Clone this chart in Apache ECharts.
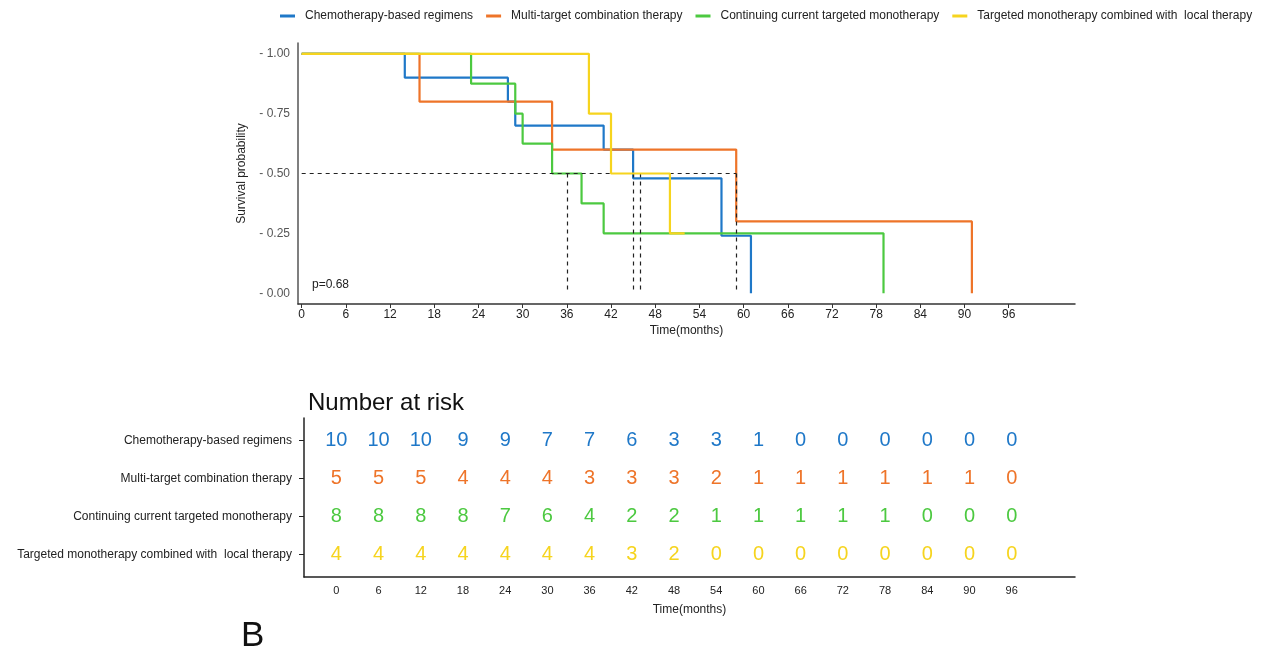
<!DOCTYPE html>
<html>
<head>
<meta charset="utf-8">
<script src="https://cdn.jsdelivr.net/npm/echarts@6/dist/echarts.min.js"></script>
<style>
html,body{margin:0;padding:0;background:#fff;}
#c{width:1267px;height:653px;}
</style>
</head>
<body>
<div id="c"></div>
<script>
// ---- data ----
var groups = ['Chemotherapy-based regimens', 'Multi-target combination therapy', 'Continuing current targeted monotherapy', 'Targeted monotherapy combined with  local therapy'];
var colors = ['#1F78C8', '#EE7429', '#4CC940', '#F6D41E'];

var chemoTimes = [0, 14, 28, 29, 41, 45, 57, 61];
var chemoSurv  = [1, 0.9, 0.8, 0.7, 0.6, 0.48, 0.24, 0];
var multiTimes = [0, 16, 34, 59, 91];
var multiSurv  = [1, 0.8, 0.6, 0.3, 0];
var contTimes  = [0, 23, 29, 30, 34, 38, 41, 79];
var contSurv   = [1, 0.875, 0.75, 0.625, 0.5, 0.375, 0.25, 0];
var localTimes = [0, 39, 42, 50, 52];
var localSurv  = [1, 0.75, 0.5, 0.25, 0.25];

var medianLevel = 0.5;
var medianTimes = [36, 45, 46, 59];

var xTicks = [0, 6, 12, 18, 24, 30, 36, 42, 48, 54, 60, 66, 72, 78, 84, 90, 96];
var yTicks = [0, 0.25, 0.5, 0.75, 1];

var riskChemo = [10, 10, 10, 9, 9, 7, 7, 6, 3, 3, 1, 0, 0, 0, 0, 0, 0];
var riskMulti = [5, 5, 5, 4, 4, 4, 3, 3, 3, 2, 1, 1, 1, 1, 1, 1, 0];
var riskCont  = [8, 8, 8, 8, 7, 6, 4, 2, 2, 1, 1, 1, 1, 1, 0, 0, 0];
var riskLocal = [4, 4, 4, 4, 4, 4, 4, 3, 2, 0, 0, 0, 0, 0, 0, 0, 0];

var pText = 'p=0.68';

// ---- build ----
var curveTimes = [chemoTimes, multiTimes, contTimes, localTimes];
var curveSurv = [chemoSurv, multiSurv, contSurv, localSurv];
var risks = [riskChemo, riskMulti, riskCont, riskLocal];
var FONT = '"Liberation Sans", Arial, sans-serif';

function pairs(t, s) { return t.map(function (v, i) { return [v, s[i]]; }); }

var series = [];
groups.forEach(function (g, i) {
  series.push({
    name: g, type: 'line', step: 'end', xAxisIndex: 0, yAxisIndex: 0,
    data: pairs(curveTimes[i], curveSurv[i]),
    showSymbol: false, symbol: 'none',
    lineStyle: { color: colors[i], width: 2.2 },
    itemStyle: { color: colors[i] },
    z: 2 + i, animation: false
  });
});
var maxMedian = Math.max.apply(null, medianTimes);
var ml = [[{ coord: [0, medianLevel] }, { coord: [maxMedian, medianLevel] }]];
medianTimes.forEach(function (t) {
  ml.push([{ coord: [t, medianLevel] }, { coord: [t, 0] }]);
});
series.push({
  type: 'line', xAxisIndex: 0, yAxisIndex: 0, data: [], silent: true, z: 10,
  markLine: {
    silent: true, symbol: ['none', 'none'], animation: false,
    label: { show: false },
    lineStyle: { color: '#222', type: [4, 4], width: 1.2 },
    data: ml
  }
});
// risk table
groups.forEach(function (g, i) {
  series.push({
    type: 'scatter', xAxisIndex: 1, yAxisIndex: 1, symbolSize: 1,
    itemStyle: { color: 'rgba(0,0,0,0)' }, silent: true, animation: false,
    data: xTicks.map(function (t, k) { return [t, groups.length - i, risks[i][k]]; }),
    label: {
      show: true, position: 'inside', fontFamily: FONT, fontSize: 20,
      color: colors[i], textBorderWidth: 0, opacity: 1,
      formatter: function (p) { return String(p.value[2]); }
    }
  });
});

var chart = echarts.init(document.getElementById('c'), null, { renderer: 'canvas' });
chart.setOption({
  animation: false,
  backgroundColor: '#fff',
  textStyle: { fontFamily: FONT },
  legend: {
    data: groups, left: 275, top: 5, width: 1000, itemWidth: 15, itemHeight: 3, itemGap: 13,
    icon: 'rect',
    textStyle: { fontFamily: FONT, fontSize: 12, color: '#222', padding: [0, 0, 0, 5] }
  },
  title: [
    { text: 'Number at risk', left: 303, top: 386, textStyle: { fontFamily: FONT, fontSize: 24, fontWeight: 'normal', color: '#111' } },
    { text: 'B', left: 236, top: 614, textStyle: { fontFamily: FONT, fontSize: 35, fontWeight: 'normal', color: '#111' } }
  ],
  graphic: [
    { type: 'text', left: 312, top: 279, style: { text: pText, fontFamily: FONT, fontSize: 12, fill: '#222' } }
  ],
  grid: [
    { left: 298, top: 43, width: 777, height: 261 },
    { left: 304, top: 418, width: 771, height: 159 }
  ],
  xAxis: [
    {
      type: 'value', gridIndex: 0, min: -0.5, max: 105,
      name: 'Time(months)', nameLocation: 'middle', nameGap: 21,
      nameTextStyle: { fontFamily: FONT, fontSize: 12, color: '#222' },
      axisLine: { show: true, onZero: false, lineStyle: { color: '#333', width: 1.5 } },
      axisTick: { show: true, customValues: xTicks, length: 4, lineStyle: { color: '#333' } },
      axisLabel: { customValues: xTicks, fontSize: 12, color: '#222', margin: 5, fontFamily: FONT },
      splitLine: { show: false }
    },
    {
      type: 'value', gridIndex: 1, min: -4.6, max: 105,
      name: 'Time(months)', nameLocation: 'middle', nameGap: 27,
      nameTextStyle: { fontFamily: FONT, fontSize: 12, color: '#222' },
      axisLine: { show: true, onZero: false, lineStyle: { color: '#222', width: 1.5 } },
      axisTick: { show: false },
      axisLabel: { customValues: xTicks, fontSize: 11, color: '#222', margin: 8, fontFamily: FONT },
      splitLine: { show: false }
    }
  ],
  yAxis: [
    {
      type: 'value', gridIndex: 0, min: -0.045, max: 1.045,
      name: 'Survival probability', nameLocation: 'middle', nameGap: 50, nameRotate: 90,
      nameTextStyle: { fontFamily: FONT, fontSize: 12, color: '#222' },
      axisLine: { show: true, onZero: false, lineStyle: { color: '#555', width: 1.5 } },
      axisTick: { show: false },
      axisLabel: {
        customValues: yTicks, fontSize: 12, color: '#555', margin: 8, fontFamily: FONT,
        formatter: function (v) { return '- ' + v.toFixed(2); }
      },
      splitLine: { show: false }
    },
    {
      type: 'value', gridIndex: 1, min: 0.4, max: 4.6,
      axisLine: { show: true, onZero: false, lineStyle: { color: '#222', width: 1.5 } },
      axisTick: { show: true, customValues: [1, 2, 3, 4], length: 5, lineStyle: { color: '#222' } },
      axisLabel: {
        customValues: [1, 2, 3, 4], fontSize: 12, color: '#222', margin: 12, fontFamily: FONT,
        formatter: function (v) { return groups[groups.length - Math.round(v)]; }
      },
      splitLine: { show: false }
    }
  ],
  series: series
});
</script>
</body>
</html>
